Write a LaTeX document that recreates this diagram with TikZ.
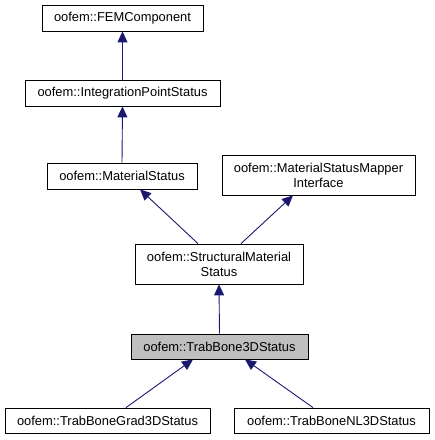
\documentclass[tikz,border=0pt]{standalone}
\usepackage{fontspec}
\setmainfont{Liberation Sans}
\usetikzlibrary{arrows.meta}
\definecolor{edgeblue}{RGB}{25,25,112}
\tikzset{
	classbox/.style={draw=black, line width=0.8pt, fill=white, inner sep=0pt,
		align=center, font=\fontsize{12.9}{15}\selectfont},
	selfbox/.style={classbox, fill=black!25},
	inherit/.style={draw=edgeblue, line width=0.9pt,
		{Triangle[length=11pt,width=10pt,fill=edgeblue]}-},
}
\begin{document}
\begin{tikzpicture}[x=1pt,y=-1pt]
	\useasboundingbox (0,0) rectangle (435,440);
	% classes
	\node[classbox, minimum width=161pt, minimum height=26pt] at (122.5,18) (fem) {oofem::FEMComponent};
	\node[classbox, minimum width=195pt, minimum height=26pt] at (122.5,93) (ips) {oofem::IntegrationPointStatus};
	\node[classbox, minimum width=150pt, minimum height=26pt] at (122,176) (ms) {oofem::MaterialStatus};
	\node[classbox, minimum width=193pt, minimum height=40pt] at (318.5,175) (msm) {oofem::MaterialStatusMapper\\Interface};
	\node[classbox, minimum width=168pt, minimum height=40pt] at (219,264) (sms) {oofem::StructuralMaterial\\Status};
	\node[selfbox, minimum width=177pt, minimum height=25pt] at (219.5,346.5) (tb3) {oofem::TrabBone3DStatus};
	\node[classbox, minimum width=205pt, minimum height=25pt] at (107.5,420.5) (tbg) {oofem::TrabBoneGrad3DStatus};
	\node[classbox, minimum width=195pt, minimum height=25pt] at (331.5,420.5) (tbn) {oofem::TrabBoneNL3DStatus};
	% inheritance
	\draw[inherit] (fem.south) -- (ips.north);
	\draw[inherit] (ips.south) -- (ms.north);
	\draw[inherit] ([xshift=18pt]ms.south) -- ([xshift=-21pt]sms.north);
	\draw[inherit] ([xshift=-25.5pt]msm.south) -- ([xshift=22pt]sms.north);
	\draw[inherit] (sms.south) -- (tb3.north);
	\draw[inherit] ([xshift=-26.5pt]tb3.south) -- ([xshift=18.5pt]tbg.north);
	\draw[inherit] ([xshift=25.5pt]tb3.south) -- ([xshift=-18.5pt]tbn.north);
\end{tikzpicture}
\end{document}
